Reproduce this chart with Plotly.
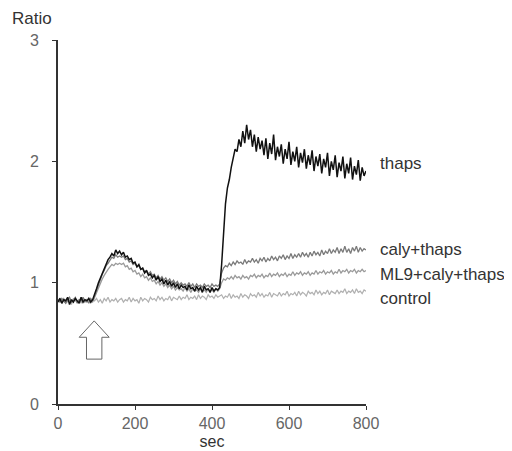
import plotly.graph_objects as go

time_sec = list(range(0, 805, 5))

thaps = [
    0.84,0.87,0.83,0.86,0.85,0.88,0.82,0.86,0.84,0.87,0.85,0.83,0.88,0.84,0.86,0.85,0.87,0.84,0.86,
    0.90,0.95,1.00,1.04,1.08,1.12,1.15,1.19,1.21,1.24,1.22,1.27,1.24,1.26,
    1.23,1.25,1.21,1.22,1.19,1.20,1.16,1.17,1.13,1.15,1.11,1.12,1.08,1.10,1.06,1.07,1.04,1.06,1.02,1.05,
    1.01,1.03,0.99,1.02,0.98,1.01,0.97,1.00,0.96,0.99,0.95,0.98,0.96,0.97,0.94,0.98,0.95,0.96,0.93,0.97,
    0.94,0.96,0.92,0.97,0.94,0.95,0.92,0.96,0.93,0.95,0.94,0.96,
    1.15,1.45,1.65,1.78,1.85,1.95,2.02,2.10,2.08,2.18,2.12,2.25,2.15,2.30,2.18,2.26,2.12,2.22,2.08,2.20,
    2.10,2.17,2.05,2.19,2.02,2.15,2.06,2.22,2.01,2.12,2.04,2.14,1.98,2.10,2.02,2.16,1.97,2.08,2.00,2.12,
    1.95,2.07,1.99,2.10,1.94,2.05,1.97,2.09,1.92,2.04,1.96,2.06,1.90,2.02,1.95,2.07,1.88,2.00,1.93,2.05,
    1.87,1.99,1.92,2.04,1.86,1.98,1.90,2.03,1.85,1.96,1.89,2.01,1.84,1.95,1.88,1.92,
]

caly_thaps = [
    0.86,0.84,0.87,0.85,0.83,0.86,0.88,0.84,0.85,0.87,0.83,0.86,0.85,0.88,0.84,0.86,0.83,0.87,0.85,
    0.89,0.94,0.99,1.03,1.07,1.10,1.14,1.16,1.19,1.21,1.20,1.23,1.21,1.22,
    1.21,1.22,1.19,1.20,1.17,1.18,1.15,1.16,1.13,1.14,1.11,1.12,1.09,1.10,1.07,1.09,1.06,1.07,1.04,1.06,
    1.03,1.05,1.02,1.04,1.01,1.03,1.00,1.02,0.99,1.01,0.98,1.00,0.98,0.99,0.97,1.00,0.97,0.99,0.96,0.99,
    0.97,0.98,0.96,0.99,0.97,0.98,0.96,0.99,0.97,0.98,0.97,0.99,
    1.08,1.12,1.14,1.13,1.16,1.14,1.17,1.15,1.18,1.16,1.17,1.15,1.19,1.16,1.18,1.17,1.20,1.17,1.19,1.16,
    1.20,1.18,1.21,1.17,1.20,1.18,1.22,1.19,1.21,1.18,1.22,1.20,1.23,1.19,1.22,1.20,1.24,1.20,1.23,1.21,
    1.24,1.21,1.25,1.22,1.24,1.21,1.25,1.22,1.26,1.23,1.25,1.22,1.27,1.23,1.26,1.24,1.28,1.24,1.27,1.25,
    1.29,1.24,1.28,1.25,1.30,1.25,1.28,1.24,1.29,1.26,1.30,1.25,1.29,1.26,1.28,1.27,
]

ml9_caly_thaps = [
    0.85,0.87,0.84,0.86,0.83,0.87,0.85,0.84,0.86,0.88,0.84,0.85,0.87,0.83,0.86,0.84,0.87,0.85,0.84,
    0.88,0.92,0.96,1.00,1.03,1.06,1.09,1.11,1.13,1.15,1.14,1.16,1.15,1.16,
    1.15,1.16,1.13,1.14,1.11,1.12,1.09,1.10,1.07,1.08,1.05,1.07,1.04,1.05,1.02,1.04,1.01,1.02,0.99,1.01,
    0.98,1.00,0.97,0.99,0.96,0.98,0.95,0.97,0.94,0.96,0.94,0.95,0.93,0.96,0.93,0.95,0.92,0.95,0.93,0.94,
    0.92,0.95,0.93,0.94,0.92,0.95,0.93,0.94,0.92,0.95,0.93,0.95,
    1.00,1.03,1.02,1.04,1.03,1.05,1.03,1.06,1.04,1.05,1.03,1.06,1.04,1.05,1.03,1.06,1.05,1.07,1.04,1.06,
    1.05,1.07,1.04,1.06,1.05,1.08,1.05,1.07,1.06,1.08,1.05,1.07,1.06,1.08,1.05,1.07,1.06,1.09,1.06,1.08,
    1.07,1.09,1.06,1.08,1.07,1.09,1.06,1.08,1.07,1.10,1.07,1.09,1.08,1.10,1.07,1.09,1.08,1.10,1.07,1.09,
    1.08,1.11,1.08,1.10,1.09,1.11,1.08,1.10,1.09,1.11,1.08,1.10,1.09,1.11,1.09,1.10,
]

control = [
    0.84,0.86,0.83,0.87,0.85,0.84,0.86,0.82,0.87,0.85,0.84,0.86,0.83,0.87,0.85,0.84,0.86,0.83,0.86,
    0.85,0.87,0.84,0.86,0.83,0.87,0.85,0.88,0.84,0.86,0.85,0.87,0.84,0.86,
    0.87,0.84,0.86,0.85,0.88,0.84,0.87,0.85,0.86,0.83,0.88,0.85,0.87,0.86,0.84,0.88,0.86,0.87,0.85,0.89,
    0.86,0.88,0.85,0.87,0.86,0.89,0.85,0.88,0.87,0.86,0.89,0.86,0.88,0.87,0.90,0.86,0.88,0.87,0.89,0.86,
    0.90,0.87,0.89,0.88,0.86,0.90,0.88,0.89,0.87,0.90,0.88,0.89,
    0.90,0.87,0.89,0.88,0.91,0.87,0.90,0.88,0.89,0.87,0.91,0.88,0.90,0.89,0.87,0.91,0.89,0.90,0.88,0.92,
    0.89,0.91,0.88,0.90,0.89,0.92,0.88,0.91,0.90,0.89,0.92,0.89,0.91,0.90,0.93,0.89,0.91,0.90,0.92,0.89,
    0.93,0.90,0.92,0.91,0.89,0.93,0.91,0.92,0.90,0.94,0.91,0.93,0.90,0.92,0.91,0.94,0.90,0.93,0.92,0.91,
    0.94,0.91,0.93,0.92,0.95,0.91,0.93,0.92,0.94,0.91,0.95,0.92,0.93,0.91,0.94,0.93,
]

series_names = ["control", "ML9+caly+thaps", "caly+thaps", "thaps"]
series_values = [control, ml9_caly_thaps, caly_thaps, thaps]
series_colors = ["#b0b0b0", "#9a9a9a", "#7a7a7a", "#111111"]
series_widths = [1.2, 1.3, 1.3, 1.5]
label_y = [0.87, 1.07, 1.27, 1.98]

x_ticks = [0, 200, 400, 600, 800]
y_ticks = [0, 1, 2, 3]

# stimulus arrow (data units): centre time, half widths, tip/base/bottom ratio
arrow_t = 94
arrow_head_half = 39
arrow_shaft_half = 20
arrow_tip, arrow_base, arrow_bottom = 0.685, 0.55, 0.37

fig = go.Figure()
for name, vals, col, w in zip(series_names, series_values, series_colors, series_widths):
    fig.add_trace(go.Scatter(
        x=time_sec[:len(vals)], y=vals, mode="lines", name=name,
        line=dict(color=col, width=w), showlegend=False, hoverinfo="skip",
    ))

for name, ly in zip(series_names, label_y):
    fig.add_annotation(x=1.039, xref="paper", y=ly, yref="y", text=name,
                       showarrow=False, xanchor="left", yanchor="middle",
                       font=dict(size=17, color="#333333"))

path = (f"M {arrow_t} {arrow_tip} L {arrow_t + arrow_head_half} {arrow_base} "
        f"L {arrow_t + arrow_shaft_half} {arrow_base} L {arrow_t + arrow_shaft_half} {arrow_bottom} "
        f"L {arrow_t - arrow_shaft_half} {arrow_bottom} L {arrow_t - arrow_shaft_half} {arrow_base} "
        f"L {arrow_t - arrow_head_half} {arrow_base} Z")
fig.add_shape(type="path", path=path, xref="x", yref="y",
              line=dict(color="#666666", width=1), fillcolor="white")

fig.add_annotation(x=-0.156, xref="paper", y=1.058, yref="paper", text="Ratio",
                   showarrow=False, xanchor="left", yanchor="middle",
                   font=dict(size=17, color="#333333"))

fig.update_layout(
    width=512, height=451,
    margin=dict(l=50, r=154, t=32, b=55, autoexpand=False),
    paper_bgcolor="white", plot_bgcolor="white",
    font=dict(family="Liberation Sans, Arial, sans-serif", size=16, color="#666666"),
    xaxis=dict(range=[0, 800], tickvals=x_ticks, ticks="outside", ticklen=4,
               tickcolor="#333333", showline=True, linecolor="#333333", linewidth=2,
               showgrid=False, zeroline=False, automargin=False,
               title=dict(text="sec", standoff=5, font=dict(size=16, color="#333333"))),
    yaxis=dict(range=[0, 3], tickvals=y_ticks, ticks="outside", ticklen=4,
               tickcolor="#333333", showline=True, linecolor="#333333", linewidth=2,
               showgrid=False, zeroline=False, automargin=False, ticklabelstandoff=10),
)

fig.write_html("out.html")
